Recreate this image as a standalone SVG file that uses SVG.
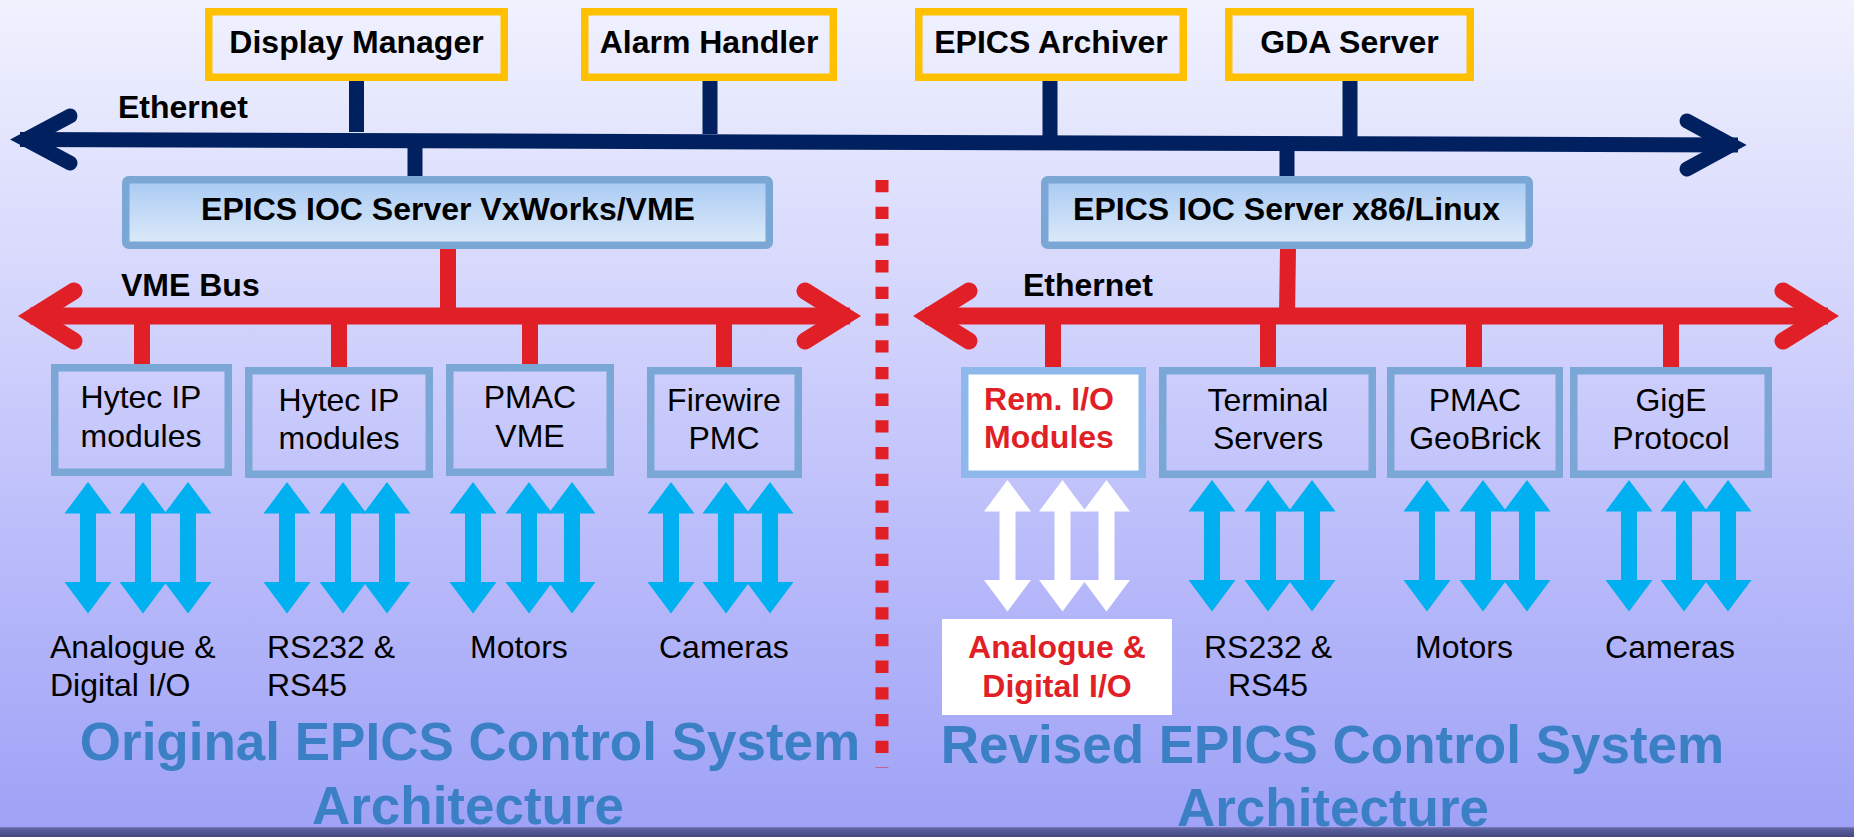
<svg xmlns="http://www.w3.org/2000/svg" width="1854" height="837" viewBox="0 0 1854 837">
<defs>
<linearGradient id="bg" x1="0" y1="0" x2="0" y2="1">
<stop offset="0" stop-color="#F0F2FE"/>
<stop offset="0.35" stop-color="#D5D6FC"/>
<stop offset="0.7" stop-color="#B6B8FA"/>
<stop offset="1" stop-color="#9EA1F6"/>
</linearGradient>
<linearGradient id="ioc" x1="0" y1="0" x2="0" y2="1">
<stop offset="0" stop-color="#A8CAF3"/>
<stop offset="1" stop-color="#DEEBF9"/>
</linearGradient>
<linearGradient id="band" x1="0" y1="0" x2="0" y2="1">
<stop offset="0" stop-color="#7C80C0"/>
<stop offset="0.2" stop-color="#5A5E9C"/>
<stop offset="1" stop-color="#44487E"/>
</linearGradient>
<path id="dbl" d="M0,0 L23.5,31.5 L8,31.5 L8,100 L23.5,100 L0,131.5 L-23.5,100 L-8,100 L-8,31.5 L-23.5,31.5 Z"/>
</defs>
<style>
text{font-family:"Liberation Sans",Arial,sans-serif;}
.top{fill:none;stroke:#FFC000;stroke-width:7.5;}
.ioc{fill:url(#ioc);stroke:#7BA7D6;stroke-width:7.5;}
.mod{fill:none;stroke:#7BA7D6;stroke-width:7.5;}
.b32{font-size:32px;font-weight:bold;fill:#000;text-anchor:middle;}
.r32{font-size:32px;fill:#000;text-anchor:middle;}
.l32{font-size:32px;fill:#000;}
.red{fill:#E11F26;}
.title{font-size:53px;font-weight:bold;fill:#3B7FC5;text-anchor:middle;}
.navy{stroke:#002060;fill:none;}
.rline{stroke:#E11F26;fill:none;}
.cy{fill:#00B0F0;}
.wh{fill:#FFFFFF;}
</style>
<rect x="0" y="0" width="1854" height="837" fill="url(#bg)"/>
<rect x="0" y="827" width="1854" height="10" fill="url(#band)"/>

<g id="connectors">
<!-- Ethernet top bus -->
<line class="navy" x1="20" y1="139.5" x2="1738" y2="145" stroke-width="15"/>
<polyline class="navy" points="70,116 26,139.5 70,163" stroke-width="15" stroke-linecap="round" stroke-linejoin="miter"/>
<polyline class="navy" points="1687,121 1731,145 1687,169" stroke-width="15" stroke-linecap="round" stroke-linejoin="miter"/>
<line class="navy" x1="356.5" y1="80" x2="356.5" y2="132" stroke-width="15"/>
<line class="navy" x1="710" y1="80" x2="710" y2="134" stroke-width="15"/>
<line class="navy" x1="1050" y1="80" x2="1050" y2="136" stroke-width="15"/>
<line class="navy" x1="1350" y1="80" x2="1350" y2="138" stroke-width="15"/>
<line class="navy" x1="415" y1="146" x2="415" y2="177" stroke-width="15"/>
<line class="navy" x1="1287" y1="146" x2="1287" y2="177" stroke-width="15"/>
<!-- VME bus -->
<line class="rline" x1="30" y1="316" x2="850" y2="316" stroke-width="17"/>
<polyline class="rline" points="74,291 34,316 74,341" stroke-width="17" stroke-linecap="round" stroke-linejoin="miter"/>
<polyline class="rline" points="805,291 845,316 805,341" stroke-width="17" stroke-linecap="round" stroke-linejoin="miter"/>
<!-- right Ethernet bus -->
<line class="rline" x1="925" y1="316" x2="1828" y2="316" stroke-width="17"/>
<polyline class="rline" points="969,291 929,316 969,341" stroke-width="17" stroke-linecap="round" stroke-linejoin="miter"/>
<polyline class="rline" points="1783,291 1823,316 1783,341" stroke-width="17" stroke-linecap="round" stroke-linejoin="miter"/>
<line class="rline" x1="448" y1="248" x2="448" y2="317" stroke-width="16"/>
<line class="rline" x1="1288" y1="248" x2="1287" y2="317" stroke-width="16"/>
<line class="rline" x1="142" y1="316" x2="142" y2="365" stroke-width="16"/>
<line class="rline" x1="339" y1="316" x2="339" y2="368" stroke-width="16"/>
<line class="rline" x1="530" y1="316" x2="530" y2="365" stroke-width="16"/>
<line class="rline" x1="724" y1="316" x2="724" y2="368" stroke-width="16"/>
<line class="rline" x1="1053" y1="316" x2="1053" y2="368" stroke-width="16"/>
<line class="rline" x1="1268" y1="316" x2="1268" y2="368" stroke-width="16"/>
<line class="rline" x1="1474" y1="316" x2="1474" y2="368" stroke-width="16"/>
<line class="rline" x1="1671" y1="316" x2="1671" y2="368" stroke-width="16"/>
<!-- divider -->
<line class="rline" x1="882" y1="180" x2="882" y2="768" stroke-width="13" stroke-dasharray="12.3 14.4"/>
<!-- I/O arrows left -->
<g class="cy">
<use href="#dbl" x="88" y="482"/><use href="#dbl" x="143" y="482"/><use href="#dbl" x="188" y="482"/>
<use href="#dbl" x="287" y="482"/><use href="#dbl" x="343" y="482"/><use href="#dbl" x="387" y="482"/>
<use href="#dbl" x="473" y="482"/><use href="#dbl" x="529" y="482"/><use href="#dbl" x="572" y="482"/>
<use href="#dbl" x="671" y="482"/><use href="#dbl" x="726" y="482"/><use href="#dbl" x="770" y="482"/>
<use href="#dbl" x="1212" y="480"/><use href="#dbl" x="1268" y="480"/><use href="#dbl" x="1312" y="480"/>
<use href="#dbl" x="1427" y="480"/><use href="#dbl" x="1483" y="480"/><use href="#dbl" x="1527" y="480"/>
<use href="#dbl" x="1629" y="480"/><use href="#dbl" x="1684" y="480"/><use href="#dbl" x="1728" y="480"/>
</g>
<g class="wh">
<use href="#dbl" x="1007.5" y="480"/><use href="#dbl" x="1062.5" y="480"/><use href="#dbl" x="1106.5" y="480"/>
</g>
</g>

<text class="l32" x="118" y="118" font-weight="bold">Ethernet</text>
<text class="l32" x="121" y="296" font-weight="bold">VME Bus</text>
<text class="l32" x="1023" y="296" font-weight="bold">Ethernet</text>

<g id="display-manager">
<rect class="top" x="208.75" y="11.75" width="295.5" height="65.5"/>
<text class="b32" x="356.5" y="53">Display Manager</text>
</g>
<g id="alarm-handler">
<rect class="top" x="584.75" y="11.75" width="248.5" height="65.5"/>
<text class="b32" x="709" y="53">Alarm Handler</text>
</g>
<g id="epics-archiver">
<rect class="top" x="918.75" y="11.75" width="264.5" height="65.5"/>
<text class="b32" x="1051" y="53">EPICS Archiver</text>
</g>
<g id="gda-server">
<rect class="top" x="1228.75" y="11.75" width="241.5" height="65.5"/>
<text class="b32" x="1349.5" y="53">GDA Server</text>
</g>

<g id="ioc-vxworks">
<rect class="ioc" x="125.75" y="179.75" width="643.5" height="65.5" rx="3"/>
<text class="b32" x="448" y="220">EPICS IOC Server VxWorks/VME</text>
</g>
<g id="ioc-linux">
<rect class="ioc" x="1044.75" y="179.75" width="484.5" height="65.5" rx="3"/>
<text class="b32" x="1286.5" y="220">EPICS IOC Server x86/Linux</text>
</g>

<g id="hytec-1">
<rect class="mod" x="54.75" y="367.75" width="173.5" height="104.5"/>
<text class="r32" x="141" y="408">Hytec IP</text>
<text class="r32" x="141" y="447">modules</text>
</g>
<g id="hytec-2">
<rect class="mod" x="248.75" y="370.75" width="180.5" height="103.5"/>
<text class="r32" x="339" y="411">Hytec IP</text>
<text class="r32" x="339" y="449">modules</text>
</g>
<g id="pmac-vme">
<rect class="mod" x="449.75" y="367.75" width="160.5" height="104.5"/>
<text class="r32" x="530" y="408">PMAC</text>
<text class="r32" x="530" y="447">VME</text>
</g>
<g id="firewire-pmc">
<rect class="mod" x="650.75" y="370.75" width="147.5" height="103.5"/>
<text class="r32" x="724" y="411">Firewire</text>
<text class="r32" x="724" y="449">PMC</text>
</g>
<g id="rem-io">
<rect x="964.75" y="370.75" width="177.5" height="103.5" fill="#FFFFFF" stroke="#8EB8EC" stroke-width="7.5"/>
<text class="b32 red" x="1049" y="410">Rem. I/O</text>
<text class="b32 red" x="1049" y="448">Modules</text>
</g>
<g id="terminal-servers">
<rect class="mod" x="1162.75" y="370.75" width="209.5" height="103.5"/>
<text class="r32" x="1268" y="411">Terminal</text>
<text class="r32" x="1268" y="449">Servers</text>
</g>
<g id="pmac-geobrick">
<rect class="mod" x="1390.75" y="370.75" width="168.5" height="103.5"/>
<text class="r32" x="1475" y="411">PMAC</text>
<text class="r32" x="1475" y="449">GeoBrick</text>
</g>
<g id="gige">
<rect class="mod" x="1573.75" y="370.75" width="194.5" height="103.5"/>
<text class="r32" x="1671" y="411">GigE</text>
<text class="r32" x="1671" y="449">Protocol</text>
</g>

<g id="labels-left">
<text class="l32" x="50" y="658">Analogue &amp;</text>
<text class="l32" x="50" y="696">Digital I/O</text>
<text class="l32" x="267" y="658">RS232 &amp;</text>
<text class="l32" x="267" y="696">RS45</text>
<text class="l32" x="470" y="658">Motors</text>
<text class="l32" x="659" y="658">Cameras</text>
</g>
<g id="labels-right">
<rect x="942" y="619" width="230" height="96" fill="#FFFFFF"/>
<text class="b32 red" x="1057" y="658">Analogue &amp;</text>
<text class="b32 red" x="1057" y="697">Digital I/O</text>
<text class="r32" x="1268" y="658">RS232 &amp;</text>
<text class="r32" x="1268" y="696">RS45</text>
<text class="r32" x="1464" y="658">Motors</text>
<text class="r32" x="1670" y="658">Cameras</text>
</g>

<g id="titles">
<text class="title" x="470" y="760">Original EPICS Control System</text>
<text class="title" x="468" y="824">Architecture</text>
<text class="title" x="1332.5" y="763">Revised EPICS Control System</text>
<text class="title" x="1333" y="826">Architecture</text>
</g>
<rect x="0" y="827" width="1854" height="10" fill="url(#band)"/>
</svg>
